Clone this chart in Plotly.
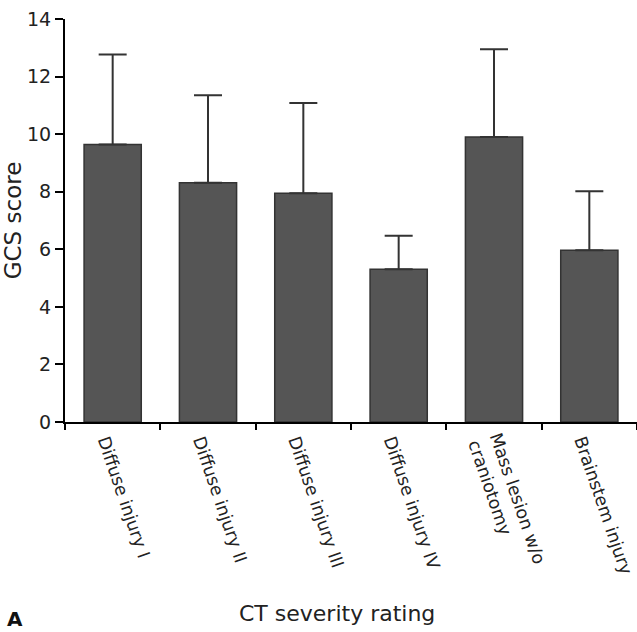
import plotly.graph_objects as go

categories = ["Diffuse injury I", "Diffuse injury II", "Diffuse injury III",
              "Diffuse injury IV", "Mass lesion w/o<br>craniotomy", "Brainstem injury"]
gcs_mean = [9.64, 8.31, 7.95, 5.31, 9.90, 5.97]
gcs_sd_upper = [3.13, 3.04, 3.13, 1.16, 3.05, 2.05]
y_ticks = [0, 2, 4, 6, 8, 10, 12, 14]

FONT = "'DejaVu Sans', sans-serif"
TXT = "#222222"

fig = go.Figure()
fig.add_trace(go.Bar(
    x=categories,
    y=gcs_mean,
    marker=dict(color="#555555", line=dict(color="#333333", width=1.5)),
    error_y=dict(type="data", symmetric=False, array=gcs_sd_upper,
                 arrayminus=[0] * len(gcs_mean),
                 color="#333333", thickness=2, width=14),
    showlegend=False,
))

fig.update_layout(
    width=637, height=632,
    margin=dict(l=65, r=0, t=19, b=210),
    plot_bgcolor="white", paper_bgcolor="white",
    bargap=0.4,
    font=dict(family=FONT, color=TXT),
    xaxis=dict(
        type="category", automargin=False,
        showline=True, linecolor="black", linewidth=2,
        ticks="outside", tickson="boundaries", ticklen=6, tickwidth=2, tickcolor="black",
        tickangle=71, tickfont=dict(size=17.5, color=TXT), ticklabelshift=-7,
        showgrid=False, zeroline=False,
        range=[-0.5, 5.5],
    ),
    yaxis=dict(
        range=[0, 14], tickvals=y_ticks, automargin=False,
        showline=True, linecolor="black", linewidth=2,
        ticks="outside", ticklen=8, tickwidth=2, tickcolor="black",
        tickfont=dict(size=19, color=TXT),
        showgrid=False, zeroline=False,
        title=dict(text="GCS score", font=dict(size=23, color=TXT), standoff=6),
    ),
    annotations=[
        dict(text="CT severity rating", xref="paper", yref="paper",
             x=0.476, y=-0.474, xanchor="center", yanchor="middle",
             showarrow=False, font=dict(size=22, color=TXT)),
        dict(text="<b>A</b>", xref="paper", yref="paper",
             x=-0.088, y=-0.523, xanchor="center", yanchor="bottom",
             showarrow=False, font=dict(size=20, color="#111111")),
    ],
)

fig.write_html("out.html")
